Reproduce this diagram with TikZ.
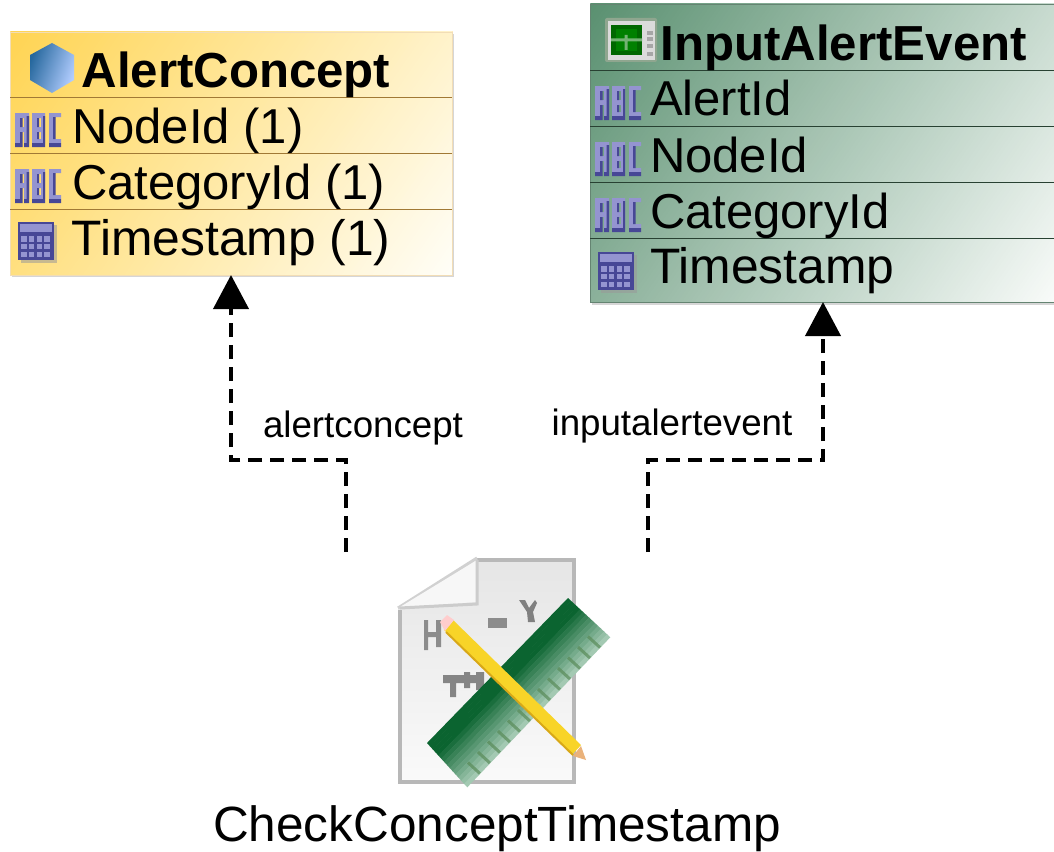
\documentclass[tikz,border=0pt]{standalone}
\usepackage{fontspec}
\setmainfont{Liberation Sans}
\usetikzlibrary{arrows.meta,calc}
\definecolor{icolight}{HTML}{9494D0}
\definecolor{icodark}{HTML}{474796}
\definecolor{yellowA}{HTML}{FFD452}
\definecolor{yellowB}{HTML}{FFFEF8}
\definecolor{greenA}{HTML}{5A9070}
\definecolor{greenB}{HTML}{F8FBF9}
\definecolor{rulerA}{HTML}{0B6430}
\definecolor{rulerB}{HTML}{B4D4C0}
\definecolor{pencilY}{HTML}{F8D428}
\definecolor{pencilD}{HTML}{D8A818}
% diagonal corner-to-corner gradient: x, y, w, h, colour A, colour B
\newcommand{\diagfill}[6]{%
  \begin{scope}
    \clip (#1,#2) rectangle ({#1+#3},{#2+#4});
    \pgfmathsetmacro{\gradL}{#3*.823+#4*.568}
    \foreach \k in {0,...,159}{
      \pgfmathsetmacro{\ga}{\k/160*\gradL}
      \pgfmathsetmacro{\gm}{(\k+.5)/160*100}
      \fill[fill=#6!\gm!#5]
        ({#1+\ga*.823+900*.568},{#2+\ga*.568-900*.823}) --
        ({#1+\ga*.823-900*.568},{#2+\ga*.568+900*.823}) --
        ({#1+(\ga+800)*.823-900*.568},{#2+(\ga+800)*.568+900*.823}) --
        ({#1+(\ga+800)*.823+900*.568},{#2+(\ga+800)*.568-900*.823}) -- cycle;
    }
  \end{scope}}
\tikzset{
  every node/.style={inner sep=0pt,outer sep=0pt},
  rowtext/.style={anchor=base west,font=\fontsize{49}{50}\selectfont,text=black},
  timetext/.style={anchor=base west,font=\fontsize{49.8}{50}\selectfont,text=black},
  headtext/.style={anchor=base west,font=\fontsize{49.2}{50}\selectfont\bfseries,text=black},
  linklabel/.style={anchor=base,font=\fontsize{36.7}{40}\selectfont,text=black},
  yellowbox/.style={anchor=north west,minimum width=442pt,minimum height=243pt,draw=yellowA!50!brown!40,line width=.6pt},
  greenbox/.style={anchor=north west,minimum width=466pt,minimum height=298pt,draw=greenA!70!black!80,line width=.5pt},
  boxshadow/.style={fill=black!16},
  rowlineY/.style={draw=black!45!yellowA!60!brown,line width=1pt},
  rowlineG/.style={draw=black!55!greenA,line width=1pt},
  dep/.style={draw=black,line width=4pt,dash pattern=on 14pt off 8pt,-{Triangle[length=34pt,width=35pt,sep=0pt]}},
  abc/.pic={
    \fill[icolight] (0,0) rectangle (14,5) (0,0) rectangle (5,30) (9,0) rectangle (14,30) (5,14) rectangle (9,19);
    \fill[icodark] (5,5) rectangle (7.5,14) (5,19) rectangle (7.5,34) (0,30) rectangle (7.5,34) (11.5,3) rectangle (14,34) (9,30) rectangle (14,34);
    \fill[icolight] (17,0) rectangle (30,5) (17,0) rectangle (22,30) (26,0) rectangle (30,30) (22,14) rectangle (26,19) (22,26) rectangle (26,30);
    \fill[icodark] (22,5) rectangle (24,14) (22,19) rectangle (24,26) (17,30) rectangle (30,34) (28,3) rectangle (30,30);
    \fill[icolight] (34,0) rectangle (46,4) (34,0) rectangle (38,30) (38,26) rectangle (46,30);
    \fill[icodark] (38,4) rectangle (40.5,26) (34,30) rectangle (46,34);
  },
  calc/.pic={
    \fill[black!40,opacity=.55] (3,3) rectangle (39,41);
    \fill[icodark] (0,0) rectangle (36,38);
    \fill[icolight] (2,2) rectangle (34,10);
    \foreach \c in {0,...,3}{\foreach \r in {0,1,2}{
      \fill[icolight] ({3+\c*7.8},{14+\r*7.8}) rectangle ({8.5+\c*7.8},{19.5+\r*7.8});}}
  }
}
\begin{document}
\begin{tikzpicture}[x=1pt,y=-1pt]
\useasboundingbox (0,0) rectangle (1054,851);
\fill[white] (0,0) rectangle (1054,851);
% AlertConcept
\fill[boxshadow] (12,34) rectangle (454,277);
\diagfill{10}{32}{442}{243}{yellowA}{yellowB}
\node[yellowbox] (alertconcept) at (10,32) {};
\draw[rowlineY] (10,97) -- (452,97) (10,153) -- (452,153) (10,209) -- (452,209);
\shade[left color=blue!45!cyan!55!black!85,right color=cyan!35!blue!30!white,shading angle=70]
  (52,43) -- (74,55) -- (74,80) -- (52,93) -- (30,80) -- (30,55) -- cycle;
\node[headtext] (acHead) at (81.5,87) {AlertConcept};
\pic at (15,113) {abc};
\pic at (15,169) {abc};
\pic at (18,222) {calc};
\node[rowtext] (acNode) at (72,143) {NodeId (1)};
\node[rowtext] (acCat) at (72,199) {CategoryId (1)};
\node[timetext] (acTime) at (71.5,255) {Timestamp (1)};
% InputAlertEvent
\fill[boxshadow] (592,6) rectangle (1054,305);
\diagfill{590}{4}{464}{298}{greenA}{greenB}
\node[greenbox] (inputalertevent) at (590,4) {};
\draw[rowlineG] (590,70) -- (1054,70) (590,126) -- (1054,126) (590,182) -- (1054,182) (590,238) -- (1054,238);
\fill[white!70!green!30!gray,rounded corners=2pt] (605,18) rectangle (657,62);
\fill[black!14] (608,21) rectangle (655,60);
\fill[black!55!green!90!black] (611,25) rectangle (642,55);
\fill[green!50!black] (616,29) rectangle (637,51);
\fill[green!35!white!70!black] (611,38.5) rectangle (642,41.5) (624.5,35) rectangle (627.5,50);
\foreach \yy in {31,37,44,52}{\fill[black!35] (647,\yy) rectangle (653,\yy+4);}
\node[headtext] (iaHead) at (660.5,60) {InputAlertEvent};
\pic at (595,86) {abc};
\pic at (595,142) {abc};
\pic at (595,198) {abc};
\pic at (598,252) {calc};
\node[rowtext] (iaAlert) at (650,115) {AlertId};
\node[rowtext] (iaNode) at (650,172) {NodeId};
\node[rowtext] (iaCat) at (650,228) {CategoryId};
\node[timetext] (iaTime) at (650,283) {Timestamp};
% Check icon
\node[anchor=north west,minimum width=212pt,minimum height=229pt] (checkicon) at (398,558) {};
\shade[top color=black!10,bottom color=black!2] (477,558) -- (575,558) -- (575,783) -- (398,783) -- (398,608) -- cycle;
\draw[black!28,line width=4pt] (477,560) -- (574,560) -- (574,782) -- (400,782) -- (400,610);
\draw[black!18,line width=3pt] (398,608) -- (477,558);
\fill[black!3] (400,607) -- (477,560) -- (477,602) -- cycle;
\draw[black!20,line width=3pt] (400,608) -- (477,604) -- (477,560);
% formula blur
\fill[black!45] (424,620) rectangle (428,650) (436,620) rectangle (441,647) (424,632) rectangle (440,637);
\fill[black!45] (488,618) rectangle (507,628);
\fill[black!50] (519,600) -- (525,600) -- (529,608) -- (535,600) -- (537,603) -- (533,612) -- (535,622) -- (528,622) -- (527,612) -- cycle;
\fill[black!48] (443,675) rectangle (482,683) (450,683) rectangle (456,697) (464,672) rectangle (470,688) (476,672) rectangle (484,690);
% ruler: strips from the dark upper edge to the pale lower edge
\foreach \i in {0,...,13}{
  \pgfmathsetmacro{\sa}{\i/14}
  \pgfmathsetmacro{\sb}{(\i+1.1)/14}
  \pgfmathsetmacro{\mixv}{\i<4?100:max(10,100-(\i-3)*9)}
  \fill[fill=rulerA!\mixv!rulerB]
    ($(427,743)!\sa!(467,787)$) -- ($(568,598)!\sa!(610,637)$) -- ($(568,598)!\sb!(610,637)$) -- ($(427,743)!\sb!(467,787)$) -- cycle;
}
\foreach \t in {.07,.14,...,.95}{
  \draw[black!35!green!30!gray,opacity=.7,line width=3pt]
    ($(610,637)!\t!(467,787)$) -- ++(-12,-11);
}
% pencil
\fill[pencilY] (444,630) -- (453,620) -- (581,745) -- (572,755) -- cycle;
\draw[pencilD,line width=2pt] (446,632) -- (573,755);
\fill[pink!90!red!60!white] (445,631) -- (454,620) -- (447,615) -- (440,622) -- cycle;
\fill[brown!55!orange!60!white] (573,756) -- (581,746) -- (586,760) -- cycle;
\node[anchor=base,font=\fontsize{49.5}{50}\selectfont] (checkname) at (497,841) {CheckConceptTimestamp};
% connectors
\coordinate (depA) at (346,552);
\coordinate (bendA) at (231,460);
\coordinate (depB) at (648,552);
\coordinate (bendB) at (823,460);
\draw[dep] (depA) |- (bendA) -- (alertconcept.south -| bendA);
\draw[dep] (depB) |- (bendB) -- (inputalertevent.south -| bendB);
\node[linklabel] (lblA) at (363,437) {alertconcept};
\node[linklabel] (lblB) at (672,435) {inputalertevent};
\end{tikzpicture}
\end{document}
